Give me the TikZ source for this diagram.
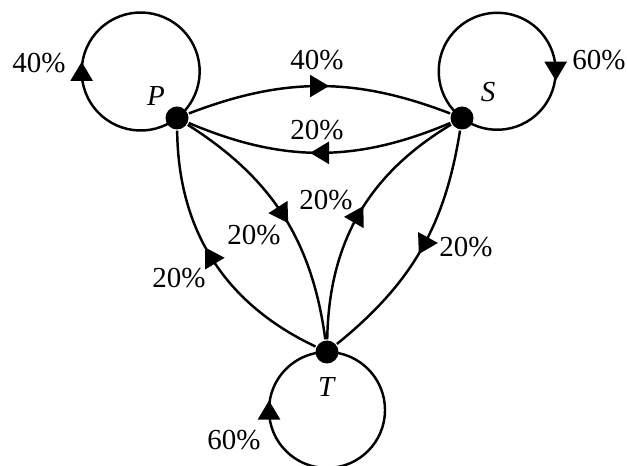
\documentclass[tikz,border=0pt]{standalone}
\usepackage{fontspec}
\setmainfont{Liberation Serif}
\usetikzlibrary{arrows.meta,decorations.markings}
\tikzset{
  midarrow/.style={postaction={decorate},decoration={markings,
    mark=at position #1 with {\arrow[xshift=1.9mm]{Triangle[length=3.8mm,width=4.4mm]}}}},
  midarrow/.default=0.5
}
\begin{document}
\begin{tikzpicture}[line width=1.4pt, every node/.style={font=\fontsize{16.5}{19}\selectfont}]
\useasboundingbox (0,0) rectangle (12.54,9.30);
\begin{scope}[every node/.style={circle,fill,inner sep=0pt,minimum size=4.6mm}]
\node (P) at (3.54,6.94) {};
\node (S) at (9.24,6.94) {};
\node (T) at (6.54,2.26) {};
\end{scope}
% names of the states
\node (pname) at (3.12,7.38) {\textit{P}};
\node (sname) at (9.76,7.46) {\textit{S}};
\node (tname) at (6.54,1.56) {\textit{T}};
% loops
\draw [midarrow=0.356] (P.center) arc[start angle=-52, delta angle=-360, radius=1.18];
\draw [midarrow=0.647] (S.center) arc[start angle=-127, delta angle=-360, radius=1.17];
\draw [midarrow=0.75] (T.center) arc[start angle=90, delta angle=-360, radius=1.16];
% transitions
\draw [midarrow] (P) to[bend left=21] (S);
\draw [midarrow] (S) to[bend left=23] (P);
\draw [midarrow] (P) to[bend left=25] (T);
\draw [midarrow=0.52] (T) to[bend left=32] (P);
\draw [midarrow] (T) to[bend left=29] (S);
\draw [midarrow=0.48] (S) to[bend left=21] (T);
% probabilities
\node (pp) at (0.78,8.04) {40\%};
\node (ss) at (11.98,8.10) {60\%};
\node (tt) at (4.68,0.50) {60\%};
\node (ps) at (6.34,8.10) {40\%};
\node (sp) at (6.34,6.70) {20\%};
\node (pt) at (5.08,4.60) {20\%};
\node (tp) at (3.58,3.74) {20\%};
\node (ts) at (6.52,5.30) {20\%};
\node (st) at (9.32,4.36) {20\%};
\end{tikzpicture}
\end{document}
